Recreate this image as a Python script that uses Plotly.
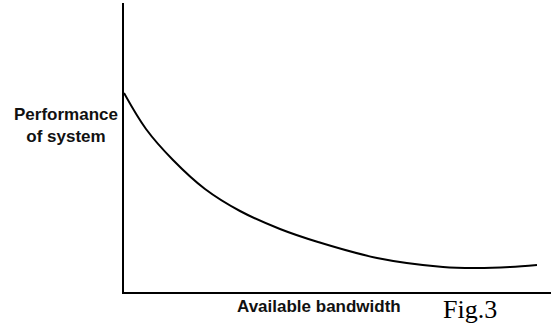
import plotly.graph_objects as go

# Data (arbitrary units)
bandwidth = [0, 22, 49, 81, 116, 156, 194, 253, 319, 353, 386, 413]
performance = [199, 163, 132, 103, 81, 63, 50, 34, 25, 24, 25, 27]

x_label = "Available bandwidth"
y_label_lines = ["Performance", "of system"]
fig_label = "Fig.3"

W, H = 551, 324
L, R, T, B = 124, 0, 3, 32
pw, ph = W - L - R, H - T - B

def px(x):
    return (x - L) / pw

def py(y):
    return (H - B - y) / ph

sans = "Liberation Sans, Arial, sans-serif"

fig = go.Figure()
fig.add_trace(go.Scatter(
    x=bandwidth, y=performance, mode="lines",
    line=dict(color="black", width=2, shape="spline", smoothing=1.0),
    hoverinfo="skip", showlegend=False,
))

fig.update_layout(
    width=W, height=H,
    margin=dict(l=L, r=R, t=T, b=B, pad=0),
    paper_bgcolor="white", plot_bgcolor="white",
    xaxis=dict(range=[0, pw], showline=True, linecolor="black", linewidth=2,
               showgrid=False, zeroline=False, showticklabels=False, ticks=""),
    yaxis=dict(range=[0, ph], showline=True, linecolor="black", linewidth=2,
               showgrid=False, zeroline=False, showticklabels=False, ticks=""),
    annotations=[
        dict(text="<br>".join("<b>" + s + "</b>" for s in y_label_lines),
             x=px(66), y=py(126), xref="paper", yref="paper",
             xanchor="center", yanchor="middle", align="center", showarrow=False,
             font=dict(family=sans, size=17, color="#111111")),
        dict(text="<b>" + x_label + "</b>", x=px(319), y=py(306), xref="paper", yref="paper",
             xanchor="center", yanchor="middle", showarrow=False,
             font=dict(family=sans, size=17, color="#111111")),
        dict(text=fig_label, x=px(470), y=py(309), xref="paper", yref="paper",
             xanchor="center", yanchor="middle", showarrow=False,
             font=dict(family="Liberation Serif, Times New Roman, serif", size=26, color="black")),
    ],
)

fig.write_html("out.html", config={"displayModeBar": False, "staticPlot": True},
               post_script="document.body.style.margin='0';")
